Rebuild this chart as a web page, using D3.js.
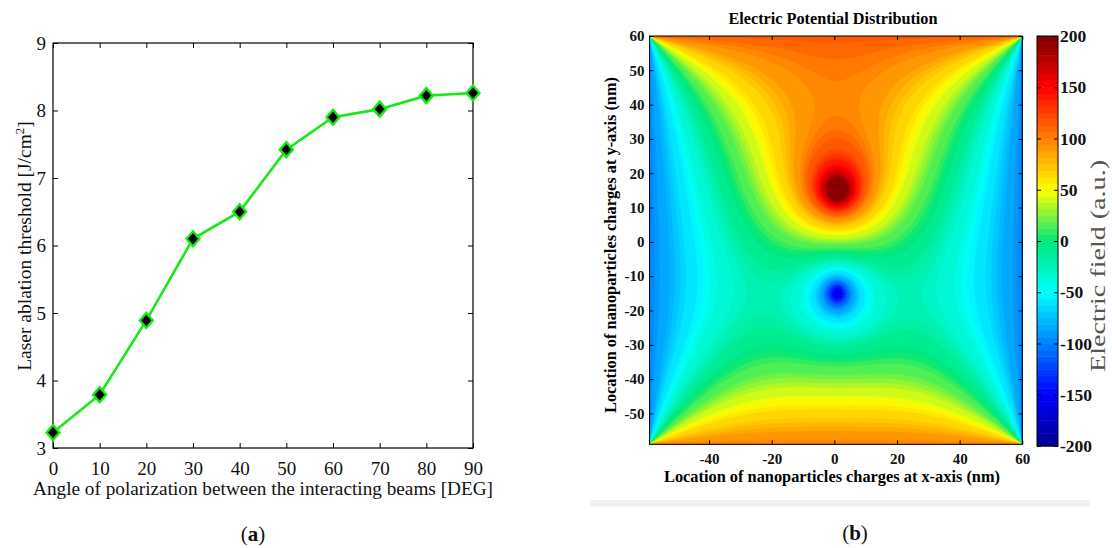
<!DOCTYPE html>
<html>
<head>
<meta charset="utf-8">
<script src="https://cdn.jsdelivr.net/npm/d3@7"></script>
<style>
  body { margin: 0; background: #fff; }
  svg { display: block; font-family: "Liberation Serif", "Times New Roman", serif; }
</style>
</head>
<body>
<svg id="fig" width="1112" height="548"></svg>
<script>
// ---- panel (a): ablation threshold vs polarization angle
const angles = [0, 10, 20, 30, 40, 50, 60, 70, 80, 90];
const threshold = [3.23, 3.79, 4.89, 6.10, 6.50, 7.42, 7.90, 8.02, 8.22, 8.26];
const angleTicks = d3.range(0, 91, 10);
const thresholdTicks = [3, 4, 5, 6, 7, 8, 9];

// ---- panel (b): potential map (grid in nm, edge potentials, the two charges)
const gridX = d3.range(-59, 61);
const gridY = d3.range(-59, 61);
const edgeValues = [112, 100, -100, -100];   // top, bottom, left, right
const chargeX = [1, 1];
const chargeY = [15, -15];
const chargeQ = [500, -400];
const chargeR = [1.2, 1.2];                   // spread of each charge (nm)
const posTicksX = [-40, -20, 0, 20, 40, 60];
const posTicksY = d3.range(-50, 61, 10);
const fieldTicks = d3.range(-200, 201, 50);
const fieldLevels = d3.range(-200, 201, 5);

// colormap (jet-like), 64 steps on the colorbar
const cmapStops = [-200, -150, -100, -50, 0, 50, 100, 150, 200];
const cmapColors = ['#00008f', '#0000ff', '#0080ff', '#00ffff', '#00e878', '#ffff00', '#ff8000', '#ff0000', '#800000'];
const nColors = 64;

const svg = d3.select('#fig');
const jet = d3.scaleLinear().domain(cmapStops).range(cmapColors).clamp(true);
const binColor = v => {
    let b = Math.floor((v + 200) / 400 * nColors);
    b = Math.max(0, Math.min(nColors - 1, b));
    return jet(-200 + (b + 0.5) * 400 / nColors);
};
const plain = d => String(d);   // hyphen minus, like the original

// ================= (a)
const xA = d3.scaleLinear().domain([0, 90]).range([53, 473]);
const yA = d3.scaleLinear().domain([3, 9]).range([448, 43]);
const gA = svg.append('g').attr('font-size', '18.5px').attr('fill', '#111');

gA.append('g').attr('transform', 'translate(0,448)')
    .call(d3.axisBottom(xA).tickValues(angleTicks).tickFormat(plain).tickSize(-5).tickSizeOuter(0).tickPadding(14))
    .call(g => g.select('.domain').remove());
gA.append('g').attr('transform', 'translate(0,43)')
    .call(d3.axisTop(xA).tickValues(angleTicks).tickSize(-5).tickSizeOuter(0).tickFormat(''))
    .call(g => g.select('.domain').remove());
gA.append('g').attr('transform', 'translate(53,0)')
    .call(d3.axisLeft(yA).tickValues(thresholdTicks).tickFormat(plain).tickSize(-5).tickSizeOuter(0).tickPadding(7))
    .call(g => g.select('.domain').remove());
gA.append('g').attr('transform', 'translate(473,0)')
    .call(d3.axisRight(yA).tickValues(thresholdTicks).tickSize(-5).tickSizeOuter(0).tickFormat(''))
    .call(g => g.select('.domain').remove());
gA.selectAll('.tick text').attr('font-size', '19px').attr('font-family', '"Liberation Serif", serif').attr('fill', '#111');
gA.selectAll('.tick line').attr('stroke', '#000');

gA.append('rect').attr('x', 53).attr('y', 43).attr('width', 420).attr('height', 405)
    .attr('fill', 'none').attr('stroke', '#000').attr('stroke-width', 1.2);

const pts = angles.map((a, i) => [a, threshold[i]]);
gA.append('path').datum(pts)
    .attr('d', d3.line().x(d => xA(d[0])).y(d => yA(d[1])))
    .attr('fill', 'none').attr('stroke', '#14ea14').attr('stroke-width', 2.6);
gA.selectAll('.mk').data(pts).join('path')
    .attr('transform', d => `translate(${xA(d[0])},${yA(d[1])})`)
    .attr('d', 'M0,-7.5L6.5,0L0,7.5L-6.5,0Z')
    .attr('fill', '#000').attr('stroke', '#14ea14').attr('stroke-width', 2.4);

gA.append('text').attr('x', 263).attr('y', 495).attr('text-anchor', 'middle')
    .attr('font-size', '19.5px').attr('textLength', 460).attr('lengthAdjust', 'spacingAndGlyphs')
    .text('Angle of polarization between the interacting beams [DEG]');
const yTitle = gA.append('text').attr('transform', 'translate(31,246) rotate(-90)')
    .attr('text-anchor', 'middle').attr('font-size', '19.5px');
yTitle.append('tspan').text('Laser ablation threshold [J/cm');
yTitle.append('tspan').attr('dy', -7).attr('font-size', '13px').text('2');
yTitle.append('tspan').attr('dy', 7).text(']');

const lblA = svg.append('text').attr('x', 253).attr('y', 541).attr('text-anchor', 'middle').attr('font-size', '21px').attr('fill', '#111');
lblA.append('tspan').text('(');
lblA.append('tspan').attr('font-weight', 'bold').text('a');
lblA.append('tspan').text(')');

// ================= (b)
const nx = gridX.length, ny = gridY.length;
const V = new Float64Array(nx * ny);
const src = new Float64Array(nx * ny);
for (let j = 0; j < ny; j++) {
    for (let i = 0; i < nx; i++) {
        const k = j * nx + i;
        const onTB = (j === ny - 1) || (j === 0), onLR = (i === 0) || (i === nx - 1);
        if (onTB && onLR) V[k] = 0;
        else if (j === ny - 1) V[k] = edgeValues[0];
        else if (j === 0) V[k] = edgeValues[1];
        else if (i === 0) V[k] = edgeValues[2];
        else if (i === nx - 1) V[k] = edgeValues[3];
    }
}
// spread each charge as a small gaussian blob
chargeX.forEach((cx, c) => {
    const s = chargeR[c], wts = [];
    let tot = 0;
    for (let j = 1; j < ny - 1; j++) {
        for (let i = 1; i < nx - 1; i++) {
            const r2 = (gridX[i] - cx) ** 2 + (gridY[j] - chargeY[c]) ** 2;
            if (r2 > 16 * s * s) continue;
            const wt = Math.exp(-r2 / (2 * s * s));
            wts.push([j * nx + i, wt]);
            tot += wt;
        }
    }
    wts.forEach(([k, wt]) => { src[k] += chargeQ[c] * wt / tot; });
});
// relaxation (SOR) for the potential
const w = 1.94;
for (let it = 0; it < 1500; it++) {
    for (let j = 1; j < ny - 1; j++) {
        for (let i = 1; i < nx - 1; i++) {
            const k = j * nx + i;
            const g = (V[k - 1] + V[k + 1] + V[k - nx] + V[k + nx] + src[k]) / 4;
            V[k] += w * (g - V[k]);
        }
    }
}

const xB = d3.scaleLinear().domain([-59, 60]).range([649.5, 1022.3]);
const yB = d3.scaleLinear().domain([-59, 60]).range([444.3, 36]);
const gB = svg.append('g');

svg.append('defs').append('clipPath').attr('id', 'clipB')
    .append('rect').attr('x', xB(-59)).attr('y', yB(60)).attr('width', xB(60) - xB(-59)).attr('height', yB(-59) - yB(60));

const proj = d3.geoTransform({
    point: function (px, py) { this.stream.point(xB(gridX[0] + px - 0.5), yB(gridY[0] + py - 0.5)); }
});
const cpath = d3.geoPath(proj);
const contours = d3.contours().size([nx, ny]).thresholds(fieldLevels)(Array.from(V));
const mapG = gB.append('g').attr('clip-path', 'url(#clipB)');
mapG.append('rect').attr('x', xB(-59)).attr('y', yB(60)).attr('width', xB(60) - xB(-59)).attr('height', yB(-59) - yB(60))
    .attr('fill', binColor(-199));
mapG.selectAll('path').data(contours).join('path')
    .attr('d', cpath)
    .attr('fill', d => binColor(d.value + 2.5))
    .attr('stroke', d => binColor(d.value + 2.5)).attr('stroke-width', 0.4);

const tickFont = g => g.selectAll('.tick text').attr('font-size', '15px').attr('font-weight', 'bold')
    .attr('font-family', '"Liberation Serif", serif').attr('fill', '#111');
gB.append('g').attr('transform', `translate(0,${yB(-59)})`)
    .call(d3.axisBottom(xB).tickValues(posTicksX).tickFormat(plain).tickSize(-4).tickSizeOuter(0).tickPadding(9))
    .call(g => g.select('.domain').remove()).call(tickFont);
gB.append('g').attr('transform', `translate(0,${yB(60)})`)
    .call(d3.axisTop(xB).tickValues(posTicksX).tickSize(-4).tickSizeOuter(0).tickFormat(''))
    .call(g => g.select('.domain').remove());
gB.append('g').attr('transform', `translate(${xB(-59)},0)`)
    .call(d3.axisLeft(yB).tickValues(posTicksY).tickFormat(plain).tickSize(-4).tickSizeOuter(0).tickPadding(5))
    .call(g => g.select('.domain').remove()).call(tickFont);
gB.append('g').attr('transform', `translate(${xB(60)},0)`)
    .call(d3.axisRight(yB).tickValues(posTicksY).tickSize(-4).tickSizeOuter(0).tickFormat(''))
    .call(g => g.select('.domain').remove());
gB.append('rect').attr('x', xB(-59)).attr('y', yB(60)).attr('width', xB(60) - xB(-59)).attr('height', yB(-59) - yB(60))
    .attr('fill', 'none').attr('stroke', '#000').attr('stroke-width', 1);

gB.append('text').attr('x', 833).attr('y', 24).attr('text-anchor', 'middle')
    .attr('font-size', '16px').attr('font-weight', 'bold').attr('textLength', 209).attr('lengthAdjust', 'spacingAndGlyphs')
    .text('Electric Potential Distribution');
gB.append('text').attr('x', 832).attr('y', 481.5).attr('text-anchor', 'middle')
    .attr('font-size', '16px').attr('font-weight', 'bold').attr('textLength', 336).attr('lengthAdjust', 'spacingAndGlyphs')
    .text('Location of nanoparticles charges at x-axis (nm)');
gB.append('text').attr('transform', 'translate(616,245) rotate(-90)').attr('text-anchor', 'middle')
    .attr('font-size', '16px').attr('font-weight', 'bold').attr('textLength', 336).attr('lengthAdjust', 'spacingAndGlyphs')
    .text('Location of nanoparticles charges at y-axis (nm)');

// colorbar
const cbX = 1037, cbW = 21;
const yC = d3.scaleLinear().domain([-200, 200]).range([446, 36]);
const step = 400 / nColors;
gB.append('g').selectAll('rect').data(d3.range(nColors)).join('rect')
    .attr('x', cbX).attr('width', cbW)
    .attr('y', b => yC(-200 + (b + 1) * step))
    .attr('height', b => yC(-200 + b * step) - yC(-200 + (b + 1) * step) + 0.5)
    .attr('fill', b => jet(-200 + (b + 0.5) * step));
gB.append('g').attr('transform', `translate(${cbX + cbW},0)`)
    .call(d3.axisRight(yC).tickValues(fieldTicks).tickFormat(plain).tickSize(-4).tickSizeOuter(0).tickPadding(2))
    .call(g => g.select('.domain').remove())
    .call(g => g.selectAll('.tick text').attr('font-size', '17.5px').attr('font-weight', 'bold')
        .attr('font-family', '"Liberation Serif", serif').attr('fill', '#111'));
gB.append('g').attr('transform', `translate(${cbX},0)`)
    .call(d3.axisLeft(yC).tickValues(fieldTicks).tickSize(-4).tickSizeOuter(0).tickFormat(''))
    .call(g => g.select('.domain').remove());
gB.append('rect').attr('x', cbX).attr('y', 36).attr('width', cbW).attr('height', 410)
    .attr('fill', 'none').attr('stroke', '#000').attr('stroke-width', 1);
gB.append('text').attr('transform', 'translate(1105,266) rotate(-90)').attr('text-anchor', 'middle')
    .attr('font-size', '21px').attr('font-family', '"Liberation Serif", serif').attr('fill', '#555')
    .attr('textLength', 212).attr('lengthAdjust', 'spacingAndGlyphs')
    .text('Electric field (a.u.)');

// separator and label
svg.append('rect').attr('x', 590).attr('y', 500).attr('width', 500).attr('height', 6.5).attr('fill', '#f0f0f0');
const lblB = svg.append('text').attr('x', 855).attr('y', 540).attr('text-anchor', 'middle').attr('font-size', '21px').attr('fill', '#111');
lblB.append('tspan').text('(');
lblB.append('tspan').attr('font-weight', 'bold').text('b');
lblB.append('tspan').text(')');
</script>
</body>
</html>
